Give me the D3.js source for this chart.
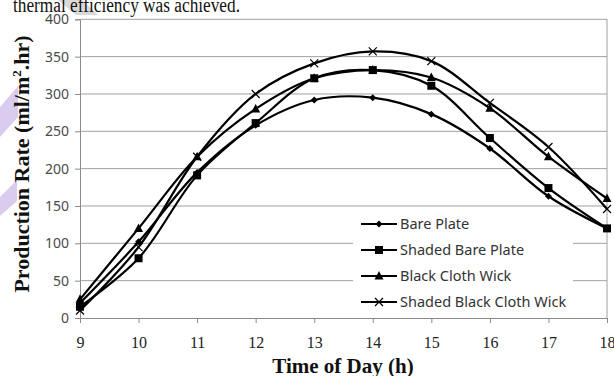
<!DOCTYPE html>
<html>
<head>
<meta charset="utf-8">
<script src="https://cdn.jsdelivr.net/npm/d3@7"></script>
<style>
  body { margin: 0; background: #fff; }
  svg { display: block; }
</style>
</head>
<body>
<svg width="614" height="376"></svg>
<script>
// values
var hours = [9, 10, 11, 12, 13, 14, 15, 16, 17, 18];
var barePlate       = [20, 102, 195, 258, 292, 295, 273, 227, 163, 120];
var shadedBare      = [15, 80, 191, 261, 321, 332, 311, 241, 174, 120];
var blackCloth      = [25, 120, 216, 280, 321, 332, 322, 281, 216, 160];
var shadedBlackCloth = [10, 95, 216, 300, 341, 357, 344, 288, 229, 146];
var seriesNames = ['Bare Plate', 'Shaded Bare Plate', 'Black Cloth Wick', 'Shaded Black Cloth Wick'];
var yTicks = [0, 50, 100, 150, 200, 250, 300, 350, 400];

var series = [
  {name: seriesNames[0], values: barePlate, marker: 'diamond'},
  {name: seriesNames[1], values: shadedBare, marker: 'square'},
  {name: seriesNames[2], values: blackCloth, marker: 'triangle'},
  {name: seriesNames[3], values: shadedBlackCloth, marker: 'cross'}
];

var svg = d3.select("svg");

// bits of the surrounding page
svg.append("polygon").attr("points", "58,0 82,0 98,15 76,15").attr("fill", "#d9d9d9");
svg.append("polygon").attr("points", "0,107 18,86 18,117 0,137").attr("fill", "#d9ccef");
svg.append("polygon").attr("points", "0,197 17,180 17,201 0,216").attr("fill", "#d9ccef");
svg.append("text").attr("x", 13).attr("y", 12)
   .attr("textLength", 227).attr("lengthAdjust", "spacingAndGlyphs")
   .style("font-family", "'Liberation Serif', 'Times New Roman', serif").style("font-size", "20px")
   .attr("fill", "#111").text("thermal efficiency was achieved.");

var plotL = 80, plotR = 607, plotT = 19.3, plotB = 318;

var x = d3.scaleLinear().domain([9, 18]).range([plotL, plotR]);
var y = d3.scaleLinear().domain([0, 400]).range([plotB, plotT]);

// gridlines
svg.append("g").selectAll("line").data(yTicks.slice(1)).enter().append("line")
   .attr("x1", plotL).attr("x2", plotR)
   .attr("y1", function(d) { return y(d); }).attr("y2", function(d) { return y(d); })
   .attr("stroke", "#a0a0a0").attr("stroke-width", 1);

// right border
svg.append("line").attr("x1", plotR).attr("x2", plotR).attr("y1", plotT).attr("y2", plotB)
   .attr("stroke", "#a0a0a0");

// axes
var yAxis = svg.append("g").attr("transform", "translate(" + plotL + ",0)")
   .call(d3.axisLeft(y).tickValues(yTicks).tickSize(5).tickPadding(6));
yAxis.selectAll("text").style("font-family", "'Noto Sans', sans-serif").style("font-size", "14px").attr("fill", "#4a4a4a");

var xAxis = svg.append("g").attr("transform", "translate(0," + plotB + ")")
   .call(d3.axisBottom(x).tickValues(hours).tickSize(5).tickPadding(14).tickFormat(d3.format("d")));
xAxis.selectAll("text").style("font-family", "'Liberation Serif', 'Times New Roman', serif").style("font-size", "16px").attr("fill", "#222");

[yAxis, xAxis].forEach(function(a) {
  a.select(".domain").attr("stroke", "#8a8a8a");
  a.selectAll(".tick line").attr("stroke", "#8a8a8a");
});

// legend background (hides gridlines)
var lgX = 353, lgY = 211;
svg.append("rect").attr("x", lgX).attr("y", lgY).attr("width", 220).attr("height", 104).attr("fill", "#fff");

function drawMarker(g, type, cx, cy) {
  if (type == 'diamond') {
    g.append("path").attr("d", "M" + cx + "," + (cy - 3.5) + "L" + (cx + 3.5) + "," + cy + "L" + cx + "," + (cy + 3.5) + "L" + (cx - 3.5) + "," + cy + "Z").attr("fill", "#000");
  } else if (type == 'square') {
    g.append("rect").attr("x", cx - 4).attr("y", cy - 4).attr("width", 8).attr("height", 8).attr("fill", "#000");
  } else if (type == 'triangle') {
    g.append("path").attr("d", "M" + cx + "," + (cy - 5) + "L" + (cx + 4.5) + "," + (cy + 3.5) + "L" + (cx - 4.5) + "," + (cy + 3.5) + "Z").attr("fill", "#000");
  } else {
    g.append("path").attr("d", "M" + (cx - 4) + "," + (cy - 4) + "L" + (cx + 4) + "," + (cy + 4) + "M" + (cx + 4) + "," + (cy - 4) + "L" + (cx - 4) + "," + (cy + 4))
     .attr("stroke", "#000").attr("stroke-width", 1.2).attr("fill", "none");
  }
}

var line = d3.line()
   .x(function(d) { return x(d[0]); })
   .y(function(d) { return y(d[1]); })
   .curve(d3.curveCatmullRom.alpha(0.5));

series.forEach(function(s) {
  var pts = hours.map(function(h, i) { return [h, s.values[i]]; });
  svg.append("path").datum(pts).attr("d", line)
     .attr("fill", "none").attr("stroke", "#000").attr("stroke-width", 2.2);
  var g = svg.append("g");
  pts.forEach(function(p) { drawMarker(g, s.marker, x(p[0]), y(p[1])); });
});

// legend
series.forEach(function(s, i) {
  var ly = 224 + i * 26;
  var g = svg.append("g");
  g.append("line").attr("x1", 361).attr("x2", 397).attr("y1", ly).attr("y2", ly)
   .attr("stroke", "#000").attr("stroke-width", 2.2);
  drawMarker(g, s.marker, 379, ly);
  g.append("text").attr("x", 400).attr("y", ly + 5)
   .style("font-family", "'Noto Sans', sans-serif").style("font-size", "14.5px").attr("fill", "#333")
   .text(s.name);
});

// axis titles
svg.append("text").attr("x", 343).attr("y", 373).attr("text-anchor", "middle")
   .style("font-family", "'Liberation Serif', 'Times New Roman', serif").style("font-size", "21px").style("font-weight", "bold")
   .attr("fill", "#111").text("Time of Day (h)");

var yt = svg.append("text").attr("transform", "translate(29,164) rotate(-90)").attr("text-anchor", "middle")
   .style("font-family", "'Liberation Serif', 'Times New Roman', serif").style("font-size", "22px").style("font-weight", "bold")
   .attr("fill", "#111");
yt.append("tspan").text("Production Rate (ml/m");
yt.append("tspan").attr("dy", -8).style("font-size", "13px").text("2");
yt.append("tspan").attr("dy", 8).text(".hr)");
</script>
</body>
</html>
